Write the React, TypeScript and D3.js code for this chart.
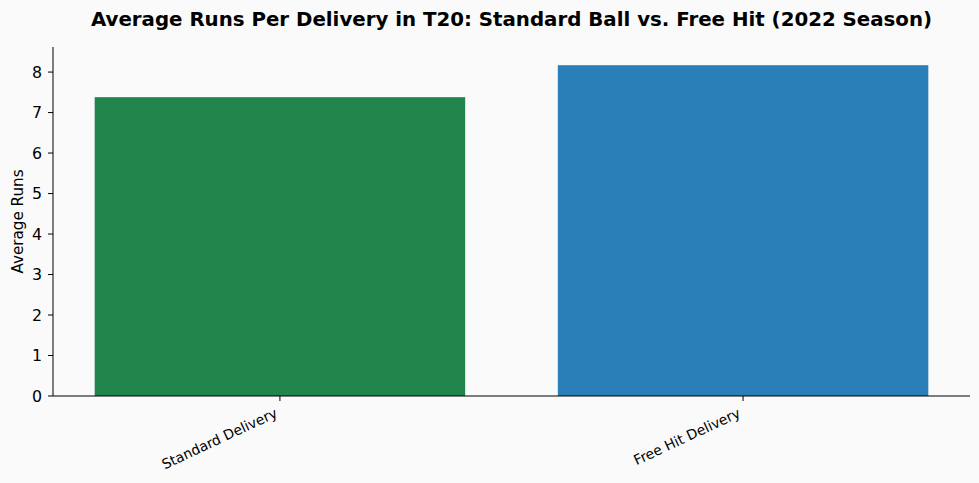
import * as d3 from 'd3';

const categories = ['Standard Delivery', 'Free Hit Delivery'];
const avgRuns = [7.38, 8.17];
const barColors = ['#21844b', '#2b7fb8'];
const yTicks = [0, 1, 2, 3, 4, 5, 6, 7, 8];

const W = 979;
const H = 483;
const m = { top: 47, right: 9, bottom: 87, left: 53 };
const FONT = '"DejaVu Sans", sans-serif';

export default function App() {
  const innerW = W - m.left - m.right;
  const innerH = H - m.top - m.bottom;

  // matplotlib-like continuous x for bar positions
  const x = d3.scaleLinear().domain([-0.49, 1.49]).range([0, innerW]);
  const yMax = d3.max(avgRuns)! * 1.055;
  const y = d3.scaleLinear().domain([0, yMax]).range([innerH, 0]);
  const barW = 0.8;

  return (
    <svg
      width={W}
      height={H}
      style={{ display: 'block', position: 'absolute', left: 0, top: 0, background: '#fafafa' }}
      fontFamily={FONT}
    >
      <rect width={W} height={H} fill='#fafafa' />
      <text
        x={m.left + innerW / 2}
        y={26}
        textAnchor='middle'
        fontSize={19.8}
        fontWeight='bold'
        fill='#000'
      >
        Average Runs Per Delivery in T20: Standard Ball vs. Free Hit (2022 Season)
      </text>

      <g transform={`translate(${m.left},${m.top})`}>
        {avgRuns.map((v, i) => (
          <rect
            key={categories[i]}
            x={x(i - barW / 2)}
            y={y(v)}
            width={x(i + barW / 2) - x(i - barW / 2)}
            height={innerH - y(v)}
            fill={barColors[i]}
          />
        ))}

        {/* y axis */}
        <line x1={0} x2={0} y1={0} y2={innerH} stroke='#000' strokeWidth={1} />
        {yTicks.map((t) => (
          <g key={t} transform={`translate(0,${y(t)})`}>
            <line x1={-5} x2={0} stroke='#000' strokeWidth={1} />
            <text x={-11} dy='0.36em' textAnchor='end' fontSize={15.8} fill='#000'>
              {t}
            </text>
          </g>
        ))}
        <text
          transform={`translate(${-30},${innerH / 2}) rotate(-90)`}
          textAnchor='middle'
          fontSize={15.2}
          fill='#000'
        >
          Average Runs
        </text>

        {/* x axis */}
        <line x1={0} x2={innerW} y1={innerH} y2={innerH} stroke='#000' strokeWidth={1} />
        {categories.map((c, i) => (
          <g key={c} transform={`translate(${x(i)},${innerH})`}>
            <line y1={0} y2={5} stroke='#000' strokeWidth={1} />
            <text
              transform='translate(-6,11) rotate(-25)'
              textAnchor='end'
              dy='0.75em'
              fontSize={13.9}
              fill='#000'
            >
              {c}
            </text>
          </g>
        ))}
      </g>
    </svg>
  );
}
